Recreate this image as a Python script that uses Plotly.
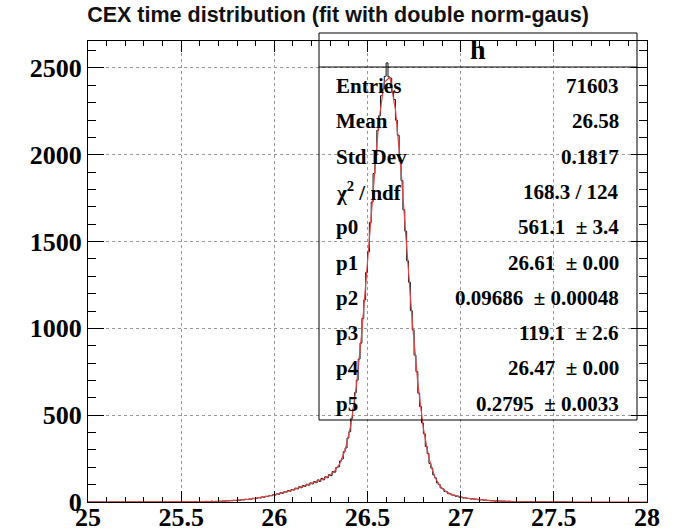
import numpy as np
import plotly.graph_objects as go

# ---------------- data ----------------
bin_width = 0.01
hist_start = 25.40
counts = [
    0, 1, 0, 0, 1, 0, 2, 0, 1, 1,            # 25.40
    1, 0, 2, 1, 1, 3, 1, 2, 0, 2,            # 25.50
    2, 3, 1, 4, 2, 3, 5, 2, 4, 3,            # 25.60
    5, 4, 6, 5, 7, 6, 8, 7, 9, 8,            # 25.70
    11, 9, 13, 12, 16, 14, 17, 16, 21, 19,   # 25.80
    20, 25, 23, 29, 27, 33, 31, 37, 36, 42,  # 25.90
    40, 47, 45, 54, 50, 59, 57, 66, 62, 72,  # 26.00
    69, 80, 75, 88, 82, 95, 90, 102, 97, 110,     # 26.10
    104, 118, 111, 127, 119, 136, 128, 145, 140, 157,  # 26.20
    152, 175, 172, 199, 203, 236, 248, 290, 311, 368,  # 26.30
    405, 481, 535, 630, 702, 823, 915, 1058, 1164, 1322,  # 26.40
    1440, 1610, 1728, 1892, 1996, 2141, 2225, 2340, 2380, 2452,  # 26.50
    2529, 2448, 2441, 2365, 2318, 2199, 2112, 1962, 1851, 1683,  # 26.60
    1560, 1389, 1266, 1102, 991, 846, 751, 627, 549, 455,  # 26.70
    393, 320, 279, 222, 195, 156, 139, 110, 101, 81,  # 26.80
    76, 61, 59, 48, 47, 40, 39, 33, 34, 27,  # 26.90
    28, 23, 25, 20, 21, 17, 19, 15, 16, 13,  # 27.00
    12, 13, 10, 11, 8, 9, 7, 8, 5, 6,        # 27.10
    5, 6, 4, 5, 3, 4, 4, 2, 3, 3,            # 27.20
    2, 3, 2, 1, 2, 2, 1, 2, 0, 1,            # 27.30
    1, 0, 1, 1, 0, 1, 0, 0, 1, 0,            # 27.40
    0, 1, 0, 0, 0, 1, 0, 0, 0, 0,            # 27.50
]

# fit parameters (double normalised gaussian), as printed in the stats box
p0, p1, p2 = 561.1, 26.61, 0.09686
p3, p4, p5 = 119.1, 26.47, 0.2795

stat_labels = ["Entries", "Mean", "Std Dev", "χ<sup>2</sup> / ndf", "p0", "p1", "p2", "p3", "p4", "p5"]
stat_values = ["71603", "26.58", "0.1817", "168.3 / 124", "561.1  ± 3.4", "26.61  ± 0.00",
               "0.09686  ± 0.00048", "119.1  ± 2.6", "26.47  ± 0.00", "0.2795  ± 0.0033"]

x_ticks = [25, 25.5, 26, 26.5, 27, 27.5, 28]
x_ticklabels = ["25", "25.5", "26", "26.5", "27", "27.5", "28"]
y_ticks = [0, 500, 1000, 1500, 2000, 2500]
y_ticklabels = ["0", "500", "1000", "1500", "2000", "2500"]

title = "CEX time distribution (fit with double norm-gaus)"

# ---------------- build ----------------
edges = [hist_start + i * bin_width for i in range(len(counts) + 1)]
hx = [25.0] + edges
hy = [0] + counts + [counts[-1]]

xf = np.linspace(25, 28, 101)
norm = np.sqrt(2 * np.pi)
yf = (p0 / (norm * p2) * np.exp(-0.5 * ((xf - p1) / p2) ** 2)
      + p3 / (norm * p5) * np.exp(-0.5 * ((xf - p4) / p5) ** 2))

fig = go.Figure()
fig.add_trace(go.Scatter(x=hx, y=hy, mode="lines", line=dict(color="#111111", width=1, shape="hv"),
                         hoverinfo="skip", showlegend=False))
fig.add_trace(go.Scatter(x=xf, y=yf, mode="lines", line=dict(color="rgb(225,70,70)", width=1.2),
                         hoverinfo="skip", showlegend=False))

W, H = 676, 532
L, R, T, B = 88, 29, 41, 30
pw, ph = W - L - R, H - T - B

def px(x):
    return (x - L) / pw

def py(y):
    return (H - B - y) / ph

fig.update_layout(
    width=W, height=H,
    margin=dict(l=L, r=R, t=T, b=B, autoexpand=False),
    paper_bgcolor="white", plot_bgcolor="white",
    title=dict(text=title, x=0.5, xanchor="center", y=1 - 14 / H, yanchor="middle", yref="container",
               font=dict(family="Liberation Sans", size=21.5, color="#111111", weight="bold")),
    xaxis=dict(range=[25, 28], tickvals=x_ticks, ticktext=x_ticklabels, ticks="inside", ticklen=11,
               tickcolor="black", showline=True, linecolor="black", linewidth=1, mirror="allticks",
               showgrid=True, gridcolor="#999999", griddash="dot", gridwidth=1, zeroline=False,
               automargin=False, ticklabelstandoff=-8,
               tickfont=dict(family="Liberation Serif", size=26, color="black", weight="bold"),
               minor=dict(dtick=0.1, ticks="inside", ticklen=5, tickcolor="black", showgrid=False)),
    yaxis=dict(range=[0, 2655], tickvals=y_ticks, ticktext=y_ticklabels, ticks="inside", ticklen=16,
               tickcolor="black", showline=True, linecolor="black", linewidth=1, mirror="allticks",
               showgrid=True, gridcolor="#999999", griddash="dot", gridwidth=1, zeroline=False,
               automargin=False, ticklabelstandoff=0,
               tickfont=dict(family="Liberation Serif", size=26, color="black", weight="bold"),
               minor=dict(dtick=100, ticks="inside", ticklen=8, tickcolor="black", showgrid=False)),
)

# stats box
bx0, bx1, by0, by1, bhead = 319, 637, 33, 420, 67
fig.add_shape(type="rect", xref="paper", yref="paper", x0=px(bx0), x1=px(bx1), y0=py(by1), y1=py(by0),
              line=dict(color="black", width=1), fillcolor="rgba(0,0,0,0)", layer="above")
fig.add_shape(type="line", xref="paper", yref="paper", x0=px(bx0), x1=px(bx1), y0=py(bhead), y1=py(bhead),
              line=dict(color="black", width=1), layer="above")
fig.add_annotation(xref="paper", yref="paper", x=px((bx0 + bx1) / 2), y=py(50), text="<b>h</b>",
                   showarrow=False, xanchor="center", yanchor="middle",
                   font=dict(family="Liberation Serif", size=28, color="black"))
row0, row_step = 86, 35.3
for i, (lab, val) in enumerate(zip(stat_labels, stat_values)):
    yy = py(row0 + i * row_step)
    fig.add_annotation(xref="paper", yref="paper", x=px(334), y=yy, text="<b>" + lab + "</b>",
                       showarrow=False, xanchor="left", yanchor="middle",
                       font=dict(family="Liberation Serif", size=21, color="black"))
    fig.add_annotation(xref="paper", yref="paper", x=px(621), y=yy, text="<b>" + val + "</b>",
                       showarrow=False, xanchor="right", yanchor="middle",
                       font=dict(family="Liberation Serif", size=21, color="black"))

fig.write_html("out.html")
